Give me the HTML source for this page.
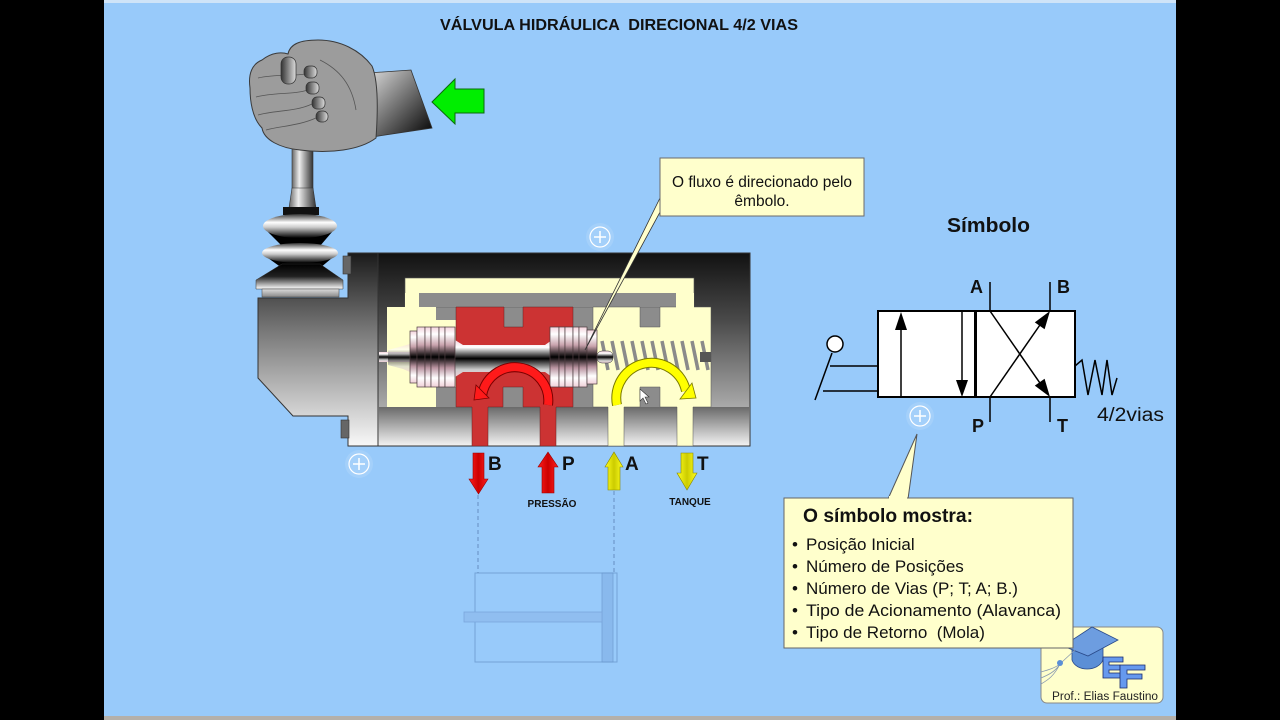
<!DOCTYPE html>
<html><head><meta charset="utf-8"><style>
html,body{margin:0;padding:0;background:#000;width:1280px;height:720px;overflow:hidden}
svg{display:block}
text{font-family:"Liberation Sans",Arial,sans-serif}
</style></head><body>
<svg width="1280" height="720" viewBox="0 0 1280 720" xmlns="http://www.w3.org/2000/svg">
<defs>
<linearGradient id="body" x1="0" y1="0" x2="0" y2="1"><stop offset="0" stop-color="#111"/><stop offset="0.35" stop-color="#4a4a4a"/><stop offset="0.8" stop-color="#aaa"/><stop offset="1" stop-color="#f2f2f2"/></linearGradient>
<linearGradient id="house" x1="0" y1="0" x2="0" y2="1"><stop offset="0" stop-color="#1a1a1a"/><stop offset="0.4" stop-color="#777"/><stop offset="1" stop-color="#f8f8f8"/></linearGradient>
<linearGradient id="low" x1="0" y1="0" x2="0" y2="1"><stop offset="0" stop-color="#6a6a6a"/><stop offset="1" stop-color="#f0f0f0"/></linearGradient>
<linearGradient id="land" x1="0" y1="0" x2="0" y2="1"><stop offset="0" stop-color="#f3d3dc"/><stop offset="0.12" stop-color="#fff"/><stop offset="0.3" stop-color="#c9a3ad"/><stop offset="0.5" stop-color="#000"/><stop offset="0.68" stop-color="#b993a0"/><stop offset="0.85" stop-color="#fff"/><stop offset="1" stop-color="#f0d0d8"/></linearGradient>
<linearGradient id="rod" x1="0" y1="0" x2="0" y2="1"><stop offset="0" stop-color="#f3d3dc"/><stop offset="0.2" stop-color="#fff"/><stop offset="0.5" stop-color="#000"/><stop offset="0.8" stop-color="#ccc"/><stop offset="1" stop-color="#f0d0d8"/></linearGradient>
<linearGradient id="stick" x1="0" y1="0" x2="1" y2="0"><stop offset="0" stop-color="#666"/><stop offset="0.35" stop-color="#eee"/><stop offset="0.7" stop-color="#888"/><stop offset="1" stop-color="#333"/></linearGradient>
<linearGradient id="bel" x1="0" y1="0" x2="0" y2="1"><stop offset="0" stop-color="#333"/><stop offset="0.35" stop-color="#fff"/><stop offset="0.55" stop-color="#ccc"/><stop offset="1" stop-color="#000"/></linearGradient>
<linearGradient id="bel3" x1="0" y1="0" x2="0" y2="1"><stop offset="0" stop-color="#000"/><stop offset="0.5" stop-color="#222"/><stop offset="1" stop-color="#fff"/></linearGradient>
<linearGradient id="plate" x1="0" y1="0" x2="0" y2="1"><stop offset="0" stop-color="#ddd"/><stop offset="1" stop-color="#888"/></linearGradient>
<linearGradient id="sleeve" x1="0" y1="0" x2="1" y2="1"><stop offset="0" stop-color="#ddd"/><stop offset="1" stop-color="#000"/></linearGradient>
<linearGradient id="nail" x1="0" y1="0" x2="1" y2="0"><stop offset="0" stop-color="#333"/><stop offset="1" stop-color="#ddd"/></linearGradient>
<linearGradient id="redv" x1="0" y1="0" x2="1" y2="0"><stop offset="0" stop-color="#ff2020"/><stop offset="0.5" stop-color="#c00"/><stop offset="1" stop-color="#ff2020"/></linearGradient>
<linearGradient id="yelv" x1="0" y1="0" x2="1" y2="0"><stop offset="0" stop-color="#ffff20"/><stop offset="0.5" stop-color="#cc0"/><stop offset="1" stop-color="#ffff20"/></linearGradient>
</defs>

<!-- background -->
<rect x="104" y="0" width="1072" height="720" fill="#98CAFA"/>
<rect x="104" y="0" width="1072" height="3" fill="#cfe4f8"/>
<rect x="104" y="716" width="1072" height="4" fill="#b4b0aa"/>

<!-- title -->
<text x="440" y="30" font-size="16" font-weight="bold" fill="#111" textLength="358" lengthAdjust="spacingAndGlyphs" xml:space="preserve">VÁLVULA HIDRÁULICA  DIRECIONAL 4/2 VIAS</text>

<!-- green arrow -->
<polygon points="432,102 455,79 455,89 484,89 484,113 455,113 455,124" fill="#00EE00" stroke="#0a6a0a" stroke-width="1"/>

<!-- stick -->
<rect x="292" y="118" width="21" height="72" fill="url(#stick)" stroke="#333" stroke-width="0.6"/>
<path d="M292,188 L289,208 L316,208 L313,188 Z" fill="url(#stick)" stroke="#333" stroke-width="0.6"/>

<!-- sleeve -->
<polygon points="368,73 411,70 432,128 372,137" fill="url(#sleeve)" stroke="#333" stroke-width="0.8"/>
<!-- fist -->
<path d="M262,60 C272,52 282,52 288,54 C290,44 300,40 318,40 C340,40 360,50 372,66 C378,80 378,110 376,138 C360,150 330,154 300,150 C280,148 264,140 262,128 C252,118 250,100 250,88 C248,74 252,64 262,60 Z" fill="#9c9c9c" stroke="#3a3a3a" stroke-width="1"/>
<path d="M258,78 C275,74 295,76 305,74 M256,97 C275,92 292,95 308,90 M258,115 C275,110 295,112 312,104 M266,130 C280,126 298,126 316,118 M320,60 C340,70 352,85 356,110" fill="none" stroke="#555" stroke-width="0.8"/>
<rect x="281" y="57" width="15" height="27" rx="7" fill="url(#nail)" stroke="#333" stroke-width="0.7"/>
<rect x="304" y="66" width="13" height="12" rx="5" fill="url(#nail)" stroke="#333" stroke-width="0.7"/>
<rect x="306" y="82" width="13" height="12" rx="5" fill="url(#nail)" stroke="#333" stroke-width="0.7"/>
<rect x="312" y="97" width="13" height="12" rx="5" fill="url(#nail)" stroke="#333" stroke-width="0.7"/>
<rect x="316" y="111" width="12" height="11" rx="5" fill="url(#nail)" stroke="#333" stroke-width="0.7"/>

<!-- bellows -->
<rect x="283" y="207" width="36" height="8" fill="#111"/>
<polygon points="268,232 332,232 320,246 282,246" fill="#000"/>
<polygon points="268,258 332,258 320,268 282,268" fill="#000"/>
<ellipse cx="300" cy="226" rx="37" ry="12" fill="url(#bel)"/>
<ellipse cx="300" cy="253" rx="38" ry="10" fill="url(#bel)"/>
<path d="M282,264 L320,264 L343,280 L343,289 L256,289 L256,280 Z" fill="url(#bel3)" stroke="#333" stroke-width="0.5"/>
<rect x="262" y="289" width="77" height="8" fill="url(#plate)" stroke="#444" stroke-width="0.5"/>

<!-- housing -->
<polygon points="258,298 348,298 348,253 378,253 378,446 348,446 348,416 293,416 258,378" fill="url(#house)" stroke="#333" stroke-width="1"/>
<rect x="343" y="256" width="8" height="18" fill="#666" stroke="#333" stroke-width="0.6"/>
<rect x="341" y="420" width="8" height="18" fill="#666" stroke="#333" stroke-width="0.6"/>
<!-- main body -->
<rect x="378" y="253" width="372" height="193" fill="url(#body)" stroke="#333" stroke-width="1"/>
<rect x="379" y="407" width="370" height="38" fill="url(#low)"/>

<!-- cavity -->
<rect x="387" y="307" width="324" height="100" fill="#8c8c8c"/>
<!-- cream top bridge -->
<rect x="405" y="278" width="289" height="29" fill="#FFFFCC" stroke="#555" stroke-width="0.6"/>
<rect x="419" y="293" width="257" height="14" fill="#8c8c8c"/>
<!-- left cream chamber -->
<rect x="387" y="307" width="49" height="100" fill="#FFFFCC"/>
<rect x="435" y="320" width="22" height="67" fill="#FFFFCC"/>
<!-- right cream -->
<path d="M593,307 L640,307 L640,327 L660,327 L660,307 L711,307 L711,407 L693,407 L693,446 L677,446 L677,407 L660,407 L660,387 L640,387 L640,407 L624,407 L624,446 L608,446 L608,407 L593,407 Z" fill="#FFFFCC" stroke="#555" stroke-width="0.5"/>
<rect x="405" y="293" width="14" height="16" fill="#FFFFCC"/>
<rect x="676" y="293" width="18" height="16" fill="#FFFFCC"/>
<!-- red -->
<path d="M456,307 L504,307 L504,327 L523,327 L523,307 L573,307 L573,407 L556,407 L556,446 L540,446 L540,407 L523,407 L523,387 L503,387 L503,407 L488,407 L488,446 L472,446 L472,407 L456,407 Z" fill="#CC3333" stroke="#662222" stroke-width="0.5"/>

<!-- spring -->
<g stroke="#8a8a8a" stroke-width="3.5">
<line x1="602" y1="341" x2="608" y2="370"/><line x1="612" y1="341" x2="618" y2="370"/><line x1="622" y1="341" x2="628" y2="370"/><line x1="632" y1="341" x2="638" y2="370"/><line x1="642" y1="341" x2="648" y2="370"/><line x1="652" y1="341" x2="658" y2="370"/><line x1="662" y1="341" x2="668" y2="370"/><line x1="672" y1="341" x2="678" y2="370"/><line x1="682" y1="341" x2="688" y2="370"/><line x1="692" y1="341" x2="698" y2="370"/><line x1="702" y1="341" x2="708" y2="370"/>
</g>
<rect x="700" y="352" width="11" height="10" fill="#555"/>

<!-- spool -->
<rect x="379" y="352" width="32" height="10" fill="url(#rod)"/>
<polygon points="388,350 403,346 410,344 410,372 403,369 388,365" fill="url(#rod)" opacity="0.6"/>
<polygon points="455,340 463,345 545,345 552,340 552,377 545,372 463,372 455,377" fill="url(#rod)"/>
<rect x="597" y="351" width="16" height="12" rx="5" fill="url(#rod)" stroke="#333" stroke-width="0.5"/>
<g fill="url(#land)" stroke="#4a3a3e" stroke-width="0.7">
<rect x="410" y="331" width="7" height="52"/><rect x="417" y="327" width="8" height="60"/><rect x="425" y="327" width="6" height="60"/><rect x="431" y="327" width="8" height="60"/><rect x="439" y="327" width="6" height="60"/><rect x="445" y="327" width="10" height="60"/>
<rect x="550" y="327" width="9" height="60"/><rect x="559" y="327" width="6" height="60"/><rect x="565" y="327" width="8" height="60"/><rect x="573" y="327" width="6" height="60"/><rect x="579" y="327" width="8" height="60"/><rect x="587" y="330" width="10" height="54"/>
</g>

<!-- red arc arrow -->
<path d="M548,405 A33,33 0 0 0 482,396" fill="none" stroke="#7a0000" stroke-width="10"/>
<path d="M548,405 A33,33 0 0 0 482,396" fill="none" stroke="#ff1a1a" stroke-width="8"/>
<polygon points="474,400 489,398 476,385" fill="#ff1a1a" stroke="#7a0000" stroke-width="0.8"/>
<!-- yellow arc arrow -->
<path d="M617,405 A34,34 0 0 1 686,391" fill="none" stroke="#7a7a00" stroke-width="10"/>
<path d="M617,405 A34,34 0 0 1 686,391" fill="none" stroke="#ffff00" stroke-width="8"/>
<polygon points="696,398 692,383 680,399" fill="#ffff00" stroke="#7a7a00" stroke-width="0.8"/>
<!-- cursor -->
<path d="M640,389 L640,401 L643,398 L646,404 L648,403 L645,397 L649,397 Z" fill="#fff" stroke="#333" stroke-width="0.6"/>

<!-- callout 1 -->
<polygon points="660,198 665,203 585,350" fill="#FFFFCC" stroke="#333" stroke-width="0.8"/>
<rect x="660" y="158" width="204" height="58" fill="#FFFFCC" stroke="#6b6b6b" stroke-width="1"/>
<text x="762" y="187" font-size="15.5" text-anchor="middle" fill="#111">O fluxo é direcionado pelo</text>
<text x="762" y="206" font-size="15.5" text-anchor="middle" fill="#111">êmbolo.</text>

<!-- plus icons -->
<g fill="none" stroke="#fff">
<circle cx="600" cy="237" r="14" fill="rgba(255,255,255,0.12)" stroke="none"/><circle cx="600" cy="237" r="10" stroke-width="1.2"/><path d="M594,237 H606 M600,231 V243" stroke-width="1.5"/>
<circle cx="359" cy="464" r="14" fill="rgba(255,255,255,0.12)" stroke="none"/><circle cx="359" cy="464" r="10" stroke-width="1.2"/><path d="M353,464 H365 M359,458 V470" stroke-width="1.5"/>
<circle cx="920" cy="416" r="14" fill="rgba(255,255,255,0.12)" stroke="none"/><circle cx="920" cy="416" r="10" stroke-width="1.2"/><path d="M914,416 H926 M920,410 V422" stroke-width="1.5"/>
</g>

<!-- port arrows -->
<path d="M473,453 H484 V479 H488 L478.5,494 L469,479 H473 Z" fill="url(#redv)" stroke="#900" stroke-width="0.6"/>
<path d="M542,493 V467 H538 L548,452 L558,467 H554 V493 Z" fill="url(#redv)" stroke="#900" stroke-width="0.6"/>
<path d="M608,490 V467 H605 L614,452 L623,467 H620 V490 Z" fill="url(#yelv)" stroke="#880" stroke-width="0.6"/>
<path d="M681,453 H693 V473 H697 L687,490 L677,473 H681 Z" fill="url(#yelv)" stroke="#880" stroke-width="0.6"/>
<g font-size="19" font-weight="bold" fill="#111">
<text x="488" y="470">B</text><text x="562" y="470">P</text><text x="625" y="470">A</text><text x="697" y="470">T</text>
</g>
<text x="552" y="507" font-size="10" font-weight="bold" text-anchor="middle" fill="#111">PRESSÃO</text>
<text x="690" y="505" font-size="10" font-weight="bold" text-anchor="middle" fill="#111">TANQUE</text>

<!-- dashed lines & cylinder -->
<g stroke="#5a80b4" stroke-width="1" stroke-dasharray="4,3" opacity="0.8">
<line x1="478" y1="495" x2="478" y2="573"/><line x1="614" y1="491" x2="614" y2="573"/>
</g>
<rect x="475" y="573" width="142" height="89" fill="none" stroke="#5a88c0" stroke-width="1" opacity="0.6"/>
<rect x="602" y="573" width="11" height="89" fill="#86b6ea" stroke="#6a96cc" stroke-width="0.8" opacity="0.8"/>
<rect x="464" y="612" width="138" height="10" fill="#90bef0" stroke="#7aa6dc" stroke-width="0.8"/>

<!-- symbol -->
<text x="947" y="232" font-size="20.5" font-weight="bold" fill="#111" textLength="83" lengthAdjust="spacingAndGlyphs">Símbolo</text>
<rect x="878" y="311" width="197" height="86" fill="#fff" stroke="#000" stroke-width="2"/>
<line x1="975.5" y1="311" x2="975.5" y2="397" stroke="#000" stroke-width="3"/>
<line x1="901" y1="397" x2="901" y2="325" stroke="#000" stroke-width="1.5"/>
<polygon points="901,312 895,330 907,330" fill="#000"/>
<line x1="962" y1="311" x2="962" y2="383" stroke="#000" stroke-width="1.5"/>
<polygon points="962,397 956,380 968,380" fill="#000"/>
<line x1="990" y1="311" x2="1042" y2="386" stroke="#000" stroke-width="1.5"/>
<polygon points="1050,397 1044.6,378.8 1034.8,385.6" fill="#000"/>
<line x1="990" y1="397" x2="1042" y2="322" stroke="#000" stroke-width="1.5"/>
<polygon points="1050,311 1044.6,329.2 1034.8,322.4" fill="#000"/>
<g stroke="#000" stroke-width="1.5">
<line x1="990" y1="282" x2="990" y2="311"/><line x1="1050" y1="282" x2="1050" y2="311"/>
<line x1="990" y1="397" x2="990" y2="422"/><line x1="1050" y1="397" x2="1050" y2="422"/>
<line x1="830" y1="366" x2="878" y2="366"/><line x1="823" y1="391" x2="878" y2="391"/>
<line x1="815" y1="400" x2="832" y2="353"/>
</g>
<circle cx="835" cy="344" r="8" fill="#fff" stroke="#000" stroke-width="1.5"/>
<polyline points="1075,366 1082,360 1088,395 1095,360 1102,395 1107,360 1112,395 1117,378" fill="none" stroke="#000" stroke-width="1.5"/>
<g font-size="18" font-weight="bold" fill="#111">
<text x="970" y="293">A</text><text x="1057" y="293">B</text><text x="972" y="432">P</text><text x="1057" y="432">T</text>
</g>
<text x="1097" y="421" font-size="19" fill="#111" textLength="67" lengthAdjust="spacingAndGlyphs">4/2vias</text>

<!-- logo -->
<rect x="1041" y="627" width="122" height="76" rx="6" fill="#FFFFCC" stroke="#888" stroke-width="1"/>
<path d="M1072,646 L1072,660 C1076,672 1098,672 1103,660 L1103,646 Z" fill="#5b8fd6" stroke="#2a4a8a" stroke-width="0.8"/>
<polygon points="1063,646 1092,627 1118,640 1088,656" fill="#6d9de0" stroke="#2a4a8a" stroke-width="0.8"/>
<path d="M1075,650 L1062,662 M1060,664 C1055,668 1048,670 1041,672 M1060,664 C1055,672 1048,675 1041,678 M1060,664 C1054,676 1048,680 1041,684" fill="none" stroke="#8a9ab0" stroke-width="0.8"/>
<circle cx="1060" cy="663" r="3" fill="#5b8fd6"/>
<path d="M1103,657 H1123 V662 H1109 V665 H1120 V670 H1109 V673 H1123 V678 H1103 Z" fill="#6699ee" stroke="#1a2a6a" stroke-width="0.8"/>
<path d="M1120,665 H1145 V670 H1127 V674 H1142 V679 H1127 V688 H1120 Z" fill="#6699ee" stroke="#1a2a6a" stroke-width="0.8"/>
<text x="1052" y="700" font-size="11.5" fill="#222" textLength="106" lengthAdjust="spacingAndGlyphs">Prof.: Elias Faustino</text>

<!-- callout 2 -->
<polygon points="888,499 908,499 917,434" fill="#FFFFCC" stroke="#555" stroke-width="1"/>
<rect x="784" y="498" width="289" height="150" fill="#FFFFCC" stroke="#666" stroke-width="1"/>
<rect x="889" y="496" width="18" height="4" fill="#FFFFCC"/>
<text x="803" y="522" font-size="19" font-weight="bold" fill="#111" textLength="170" lengthAdjust="spacingAndGlyphs">O símbolo mostra:</text>
<g font-size="17" fill="#111">
<text x="792" y="550">•</text><text x="806" y="550">Posição Inicial</text>
<text x="792" y="572">•</text><text x="806" y="572">Número de Posições</text>
<text x="792" y="594">•</text><text x="806" y="594">Número de Vias (P; T; A; B.)</text>
<text x="792" y="616">•</text><text x="806" y="616" textLength="255" lengthAdjust="spacingAndGlyphs">Tipo de Acionamento (Alavanca)</text>
<text x="792" y="638">•</text><text x="806" y="638" xml:space="preserve">Tipo de Retorno  (Mola)</text>
</g>
</svg>
</body></html>
